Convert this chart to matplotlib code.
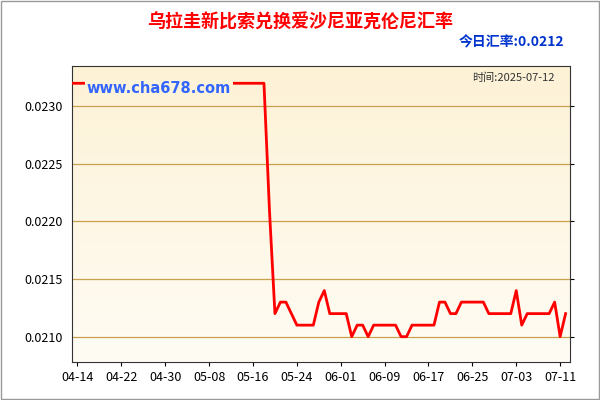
import numpy as np
import matplotlib
matplotlib.use("Agg")
import matplotlib.pyplot as plt
import matplotlib.dates as mdates

plt.rcParams['font.family'] = ['Noto Sans CJK SC', 'DejaVu Sans']

# daily rates from 2025-04-13 to 2025-07-12
start = np.datetime64("2025-04-13")
flat_part = [0.0232] * 36
after_drop = [0.0221, 0.0212, 0.0213, 0.0213, 0.0212, 0.0211, 0.0211, 0.0211, 0.0211,
              0.0213, 0.0214, 0.0212, 0.0212, 0.0212, 0.0212, 0.0210, 0.0211, 0.0211,
              0.0210, 0.0211, 0.0211, 0.0211, 0.0211, 0.0211, 0.0210, 0.0210, 0.0211,
              0.0211, 0.0211, 0.0211, 0.0211, 0.0213, 0.0213, 0.0212, 0.0212, 0.0213,
              0.0213, 0.0213, 0.0213, 0.0213, 0.0212, 0.0212, 0.0212, 0.0212, 0.0212,
              0.0214, 0.0211, 0.0212, 0.0212, 0.0212, 0.0212, 0.0212, 0.0213, 0.0210,
              0.0212]
rates = flat_part + after_drop
dates = start + np.arange(len(rates))
ticks = np.datetime64("2025-04-14") + np.arange(0, 96, 8)
yticks = [0.0210, 0.0215, 0.0220, 0.0225, 0.0230]

fig = plt.figure(figsize=(6, 4), dpi=100)
ax = fig.add_axes([72 / 600, 38 / 400, 498 / 600, (400 - 38 - 66) / 400])

x0, x1 = mdates.date2num(start), mdates.date2num(dates[-1]) + 0.8
ax.set_xlim(x0, x1)
ax.set_ylim(0.02078, 0.02335)
grad = np.linspace(1, 0, 256).reshape(-1, 1)
cmap = matplotlib.colors.LinearSegmentedColormap.from_list("bg", ["#fffcf4", "#fdf2d6"])
ax.imshow(grad, aspect="auto", cmap=cmap, extent=[x0, x1, 0.02078, 0.02335], zorder=0)

for y in yticks:
    ax.axhline(y, color="#c8a050", lw=0.9, zorder=1)
ax.plot(mdates.date2num(dates), rates, color="red", lw=2, zorder=3)

ax.set_yticks(yticks)
ax.set_yticklabels([f"{v:.4f}" for v in yticks])
ax.set_xticks(mdates.date2num(ticks))
ax.set_xticklabels([str(t)[5:] for t in ticks])
ax.tick_params(labelsize=9, direction="out", length=3)
ax.tick_params(axis="y", labelleft=True, labelright=False, left=False, right=True)
for s in ax.spines.values():
    s.set_color("#333333")

ax.text(0.03, 0.925, "www.cha678.com", transform=ax.transAxes, color="#3366ff",
        fontsize=10.5, fontweight="bold", va="center", family="DejaVu Sans", zorder=5,
        bbox=dict(facecolor="#fdf3d8", edgecolor="none", pad=1.5))
ax.text(0.97, 0.96, "时间:2025-07-12", transform=ax.transAxes, color="#333333",
        fontsize=8, ha="right", va="center")
fig.text(0.5, 0.945, "乌拉圭新比索兑换爱沙尼亚克伦尼汇率", color="red", fontsize=13,
         fontweight="bold", ha="center", va="center")
fig.text(0.94, 0.893, "今日汇率:0.0212", color="#0033cc", fontsize=10,
         fontweight="bold", ha="right", va="center")
fig.patches.append(plt.Rectangle((0.002, 0.002), 0.996, 0.996, transform=fig.transFigure,
                                 fill=False, edgecolor="#999999", lw=1))
fig.savefig("out.png", dpi=100)
